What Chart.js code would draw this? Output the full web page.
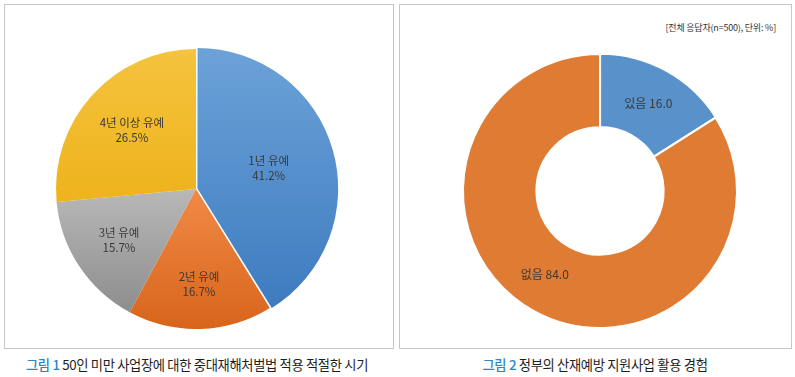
<!DOCTYPE html>
<html><head><meta charset="utf-8">
<script src="https://cdn.jsdelivr.net/npm/chart.js@4"></script>
<style>
html,body{margin:0;padding:0;}
body{width:795px;height:377px;background:#fff;position:relative;overflow:hidden;font-family:"Noto Sans CJK KR","Noto Sans",sans-serif;}
.panel{position:absolute;border:1px solid #c6c6c6;box-sizing:border-box;}
.cap{position:absolute;top:356px;height:18px;line-height:18px;font-size:13.3px;color:#1e1e1e;white-space:nowrap;letter-spacing:-0.35px;transform:translateX(-50%);}
.cap b{color:#2b86c5;font-weight:500;}
.note{position:absolute;right:19px;top:21px;font-size:9px;line-height:13px;color:#333;white-space:nowrap;letter-spacing:-0.2px;}
.cv{position:absolute;}
</style></head><body>
<div class="panel" style="left:4px;top:4px;width:390px;height:345px"></div>
<div class="panel" style="left:399px;top:4px;width:393px;height:345px"></div>
<div class="note">[전체 응답자(n=500), 단위: %]</div>
<canvas id="c1" class="cv" width="300" height="300" style="left:46px;top:39px"></canvas>
<canvas id="c2" class="cv" width="300" height="300" style="left:450px;top:41px"></canvas>
<div class="cap" style="left:197px"><b>그림 1</b> 50인 미만 사업장에 대한 중대재해처벌법 적용 적절한 시기</div>
<div class="cap" style="left:595px"><b>그림 2</b> 정부의 산재예방 지원사업 활용 경험</div>
<script>
// ---- data ----
const pieCategories = ['1년 유예', '2년 유예', '3년 유예', '4년 이상 유예'];
const pieValues = [41.2, 16.7, 15.7, 26.5];
const donutCategories = ['있음', '없음'];
const donutValues = [16.0, 84.0];

// ---- styles ----
const pieGradients = [
  [[0, '#6ca2d8'], [1, '#3a78bd']],
  [[0.5, '#f08a46'], [1, '#d8641b']],
  [[0.5, '#b8b8b8'], [0.95, '#8c8c8c']],
  [[0, '#f5c33e'], [0.55, '#eeb31c']]
];
const donutColors = ['#5991ca', '#e07b33'];

function gradFill(ctx) {
  const chart = ctx.chart;
  const a = chart.chartArea;
  const stops = pieGradients[ctx.dataIndex];
  if (!a) return stops[0][1];
  const cy = (a.top + a.bottom) / 2;
  const g = chart.ctx.createLinearGradient(0, cy - 141, 0, cy + 141);
  stops.forEach(s => g.addColorStop(s[0], s[1]));
  return g;
}

const sliceLabels = {
  id: 'sliceLabels',
  afterDatasetsDraw(chart, args, opts) {
    const ctx = chart.ctx;
    const meta = chart.getDatasetMeta(0);
    ctx.save();
    ctx.font = opts.font;
    ctx.fillStyle = opts.color;
    ctx.textAlign = 'center';
    ctx.textBaseline = 'middle';
    meta.data.forEach((arc, i) => {
      const p = arc.getProps(['x', 'y', 'startAngle', 'endAngle', 'outerRadius', 'innerRadius'], true);
      const mid = (p.startAngle + p.endAngle) / 2 + (opts.angleShift ? opts.angleShift[i] : 0);
      const r = p.innerRadius + (p.outerRadius - p.innerRadius) * opts.radius[i];
      const x = p.x + Math.cos(mid) * r;
      const y = p.y + Math.sin(mid) * r;
      const lines = opts.format(i);
      const lh = opts.lineHeight;
      lines.forEach((t, k) => {
        ctx.fillText(t, x, y + (k - (lines.length - 1) / 2) * lh);
      });
    });
    ctx.restore();
  }
};

new Chart(document.getElementById('c1'), {
  type: 'pie',
  data: {
    labels: pieCategories,
    datasets: [{
      data: pieValues,
      backgroundColor: gradFill,
      borderWidth: 0,
      offset: [6, 0, 0, 0]
    }]
  },
  options: {
    responsive: false,
    animation: false,
    radius: 140,
    layout: { padding: 0 },
    plugins: {
      legend: { display: false },
      tooltip: { enabled: false },
      sliceLabels: {
        font: '11.5px "Noto Sans CJK KR"',
        color: '#3a3a3a',
        lineHeight: 15,
        radius: [0.54, 0.68, 0.66, 0.62],
        format: i => [pieCategories[i], pieValues[i].toFixed(1) + '%']
      }
    }
  },
  plugins: [sliceLabels]
});

new Chart(document.getElementById('c2'), {
  type: 'doughnut',
  data: {
    labels: donutCategories,
    datasets: [{
      data: donutValues,
      backgroundColor: donutColors,
      borderColor: '#ffffff',
      borderWidth: 2,
      offset: [1, 0]
    }]
  },
  options: {
    responsive: false,
    animation: false,
    radius: 137,
    cutout: 69,
    layout: { padding: 0 },
    plugins: {
      legend: { display: false },
      tooltip: { enabled: false },
      sliceLabels: {
        font: '12px "Noto Sans CJK KR"',
        color: '#3a3a3a',
        lineHeight: 15,
        radius: [0.5, 0.5],
        angleShift: [0, 0.08],
        format: i => [donutCategories[i] + ' ' + donutValues[i].toFixed(1)]
      }
    }
  },
  plugins: [sliceLabels]
});
</script>
</body></html>
